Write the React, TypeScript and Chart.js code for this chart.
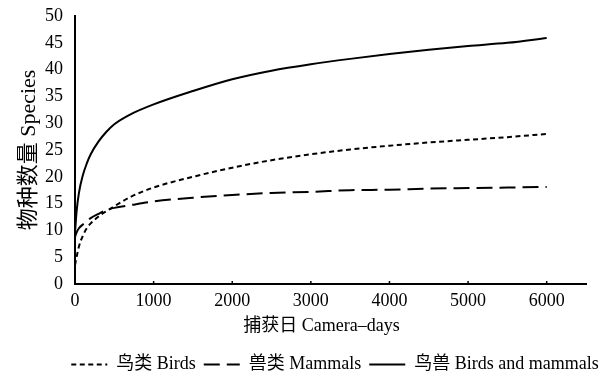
import React, { useEffect, useRef } from "react";
import { Chart, registerables } from "chart.js";

Chart.register(...registerables);

const cameraDays = [0, 20, 50, 100, 150, 200, 300, 400, 500, 700, 1000, 1500, 2000, 2500, 3000, 3500, 4000, 4500, 5000, 5500, 6000];
const birds = [3.5, 5, 7, 9, 10.4, 11.3, 12.6, 13.6, 14.5, 16.2, 18, 20, 21.7, 23.1, 24.2, 25.1, 25.8, 26.4, 26.9, 27.4, 28];
const mammals = [8.8, 9.6, 10.4, 11.1, 11.7, 12.3, 13.1, 13.8, 14.2, 14.7, 15.4, 16.1, 16.6, 17, 17.2, 17.5, 17.6, 17.8, 17.9, 18, 18.1];
const birdsAndMammals = [9.5, 13.5, 17, 20.3, 22.5, 24.2, 26.6, 28.4, 29.8, 31.6, 33.5, 36, 38.2, 39.8, 41, 42, 42.9, 43.7, 44.4, 45, 45.9];

const xTickValues = [0, 1000, 2000, 3000, 4000, 5000, 6000];
const seriesLabels = ["鸟类 Birds", "兽类 Mammals", "鸟兽 Birds and mammals"];
const xTitle = "捕获日 Camera–days\u00A0\u00A0\u00A0\u00A0";
const yTitle = "物种数量 Species";

const FONT = '"Liberation Serif", "Noto Sans CJK SC", serif';

const innerTicks = {
  id: "innerTicks",
  afterDraw(chart: any) {
    const { ctx } = chart;
    const xs = chart.scales.x;
    const ys = chart.scales.y;
    ctx.save();
    ctx.strokeStyle = "#000";
    ctx.lineWidth = 1.5;
    xs.ticks.forEach((t: any) => {
      if (t.value === 0) return;
      const px = xs.getPixelForValue(t.value);
      ctx.beginPath();
      ctx.moveTo(px, ys.bottom);
      ctx.lineTo(px, ys.bottom - 3);
      ctx.stroke();
    });
    ctx.restore();
  },
};

const legendShift = {
  id: "legendShift",
  afterLayout(chart: any) {
    const lg = chart.legend;
    if (!lg) return;
    const dx = 35;
    const dy = 9.5;
    lg.left += dx;
    lg.right += dx;
    lg.top += dy;
    lg.bottom += dy;
  },
};

export default function App() {
  const ref = useRef<HTMLCanvasElement | null>(null);
  useEffect(() => {
    if (!ref.current) return;
    const mk = (arr: number[]) => cameraDays.map((x, i) => ({ x, y: arr[i] }));
    const chart = new Chart(ref.current, {
      type: "line",
      data: {
        datasets: [
          {
            label: seriesLabels[0],
            data: mk(birds),
            borderColor: "#000",
            backgroundColor: "#000",
            borderWidth: 2,
            borderDash: [5, 3.5],
            pointRadius: 0,
            cubicInterpolationMode: "monotone",
          },
          {
            label: seriesLabels[1],
            data: mk(mammals),
            borderColor: "#000",
            backgroundColor: "#000",
            borderWidth: 2,
            borderDash: [16, 7],
            pointRadius: 0,
            cubicInterpolationMode: "monotone",
          },
          {
            label: seriesLabels[2],
            data: mk(birdsAndMammals),
            borderColor: "#000",
            backgroundColor: "#000",
            borderWidth: 2,
            pointRadius: 0,
            cubicInterpolationMode: "monotone",
          },
        ],
      },
      options: {
        animation: false,
        responsive: false,
        maintainAspectRatio: false,
        layout: { padding: { left: 14, right: 20, top: 16, bottom: 0 } },
        plugins: {
          tooltip: { enabled: false },
          legend: {
            position: "bottom",
            labels: {
              usePointStyle: true,
              pointStyle: "line",
              pointStyleWidth: 36,
              boxWidth: 36,
              boxHeight: 2,
              padding: 8,
              color: "#000",
              font: { family: FONT, size: 18 },
              generateLabels: (chart: any) =>
                chart.data.datasets.map((ds: any, i: number) => ({
                  text: ds.label,
                  fillStyle: "#000",
                  strokeStyle: "#000",
                  fontColor: "#000",
                  lineWidth: 2,
                  lineDash: ds.borderDash || [],
                  pointStyle: "line",
                  hidden: false,
                  datasetIndex: i,
                })),
            },
          },
        },
        scales: {
          x: {
            type: "linear",
            min: 0,
            max: 6500,
            grid: { display: false, drawTicks: false },
            border: { display: true, color: "#000", width: 2 },
            afterBuildTicks: (s: any) => {
              s.ticks = xTickValues.map((v) => ({ value: v }));
            },
            ticks: {
              padding: 6,
              color: "#000",
              maxRotation: 0,
              autoSkip: false,
              font: { family: FONT, size: 18 },
              callback: (v: any) => String(v),
            },
            title: {
              display: true,
              text: xTitle,
              color: "#000",
              font: { family: FONT, size: 18 },
              padding: { top: 2, bottom: 1 },
            },
            afterFit: (s: any) => {
              s.height = 54;
            },
          },
          y: {
            min: 0,
            max: 50,
            grid: { display: false, drawTicks: false },
            border: { display: true, color: "#000", width: 2 },
            ticks: {
              stepSize: 5,
              padding: 12,
              color: "#000",
              font: { family: FONT, size: 18 },
            },
            title: {
              display: true,
              text: yTitle,
              color: "#000",
              font: { family: FONT, size: 22 },
              padding: { top: 2, bottom: 2 },
            },
            afterFit: (s: any) => {
              s.width = 61;
              s.paddingTop = 0;
              s.paddingBottom = 0;
            },
          },
        },
      },
      plugins: [innerTicks, legendShift],
    });
    return () => chart.destroy();
  }, []);
  return (
    <div style={{ position: "fixed", left: 0, top: 0, width: 606, height: 374, background: "#fff" }}>
      <canvas ref={ref} width={606} height={374} />
    </div>
  );
}
